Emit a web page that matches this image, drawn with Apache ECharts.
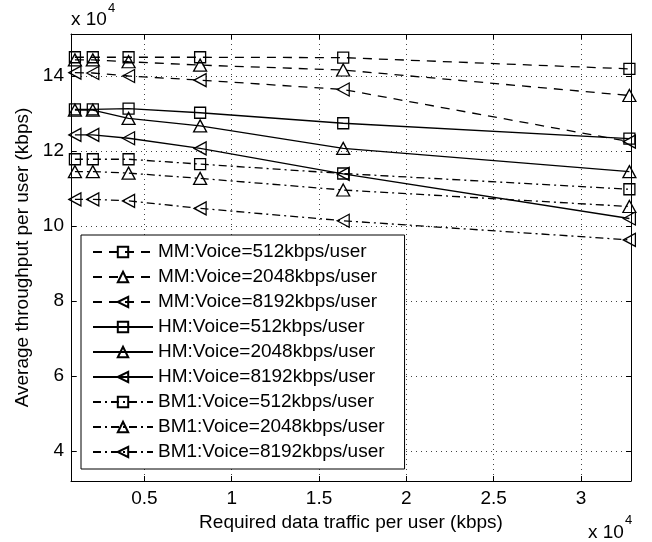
<!DOCTYPE html>
<html>
<head>
<meta charset="utf-8">
<script src="https://cdn.jsdelivr.net/npm/echarts@6/dist/echarts.min.js"></script>
<style>html,body{margin:0;padding:0;background:#fff}#c{width:652px;height:542px}</style>
</head>
<body>
<div id="c"></div>
<script>
var xValues = [1024, 2048, 4096, 8192, 16384, 32768];
var xTicks = [5000, 10000, 15000, 20000, 25000, 30000];
var yTicks = [40000, 60000, 80000, 100000, 120000, 140000];

var mm512  = [145000, 145000, 145000, 145000, 144900, 141900];
var mm2048 = [144300, 144300, 143800, 142900, 141600, 134800];
var mm8192 = [140900, 140800, 140000, 138900, 136400, 122500];
var hm512  = [131100, 131100, 131300, 130200, 127400, 123300];
var hm2048 = [130900, 130900, 128700, 126700, 120700, 114500];
var hm8192 = [124300, 124300, 123400, 120700, 113900, 102000];
var bm512  = [117800, 117800, 117800, 116500, 114000, 109800];
var bm2048 = [114500, 114500, 114100, 112700, 109600, 105200];
var bm8192 = [107100, 107100, 106700, 104700, 101400, 96300];

var names = [
  'MM:Voice=512kbps/user', 'MM:Voice=2048kbps/user', 'MM:Voice=8192kbps/user',
  'HM:Voice=512kbps/user', 'HM:Voice=2048kbps/user', 'HM:Voice=8192kbps/user',
  'BM1:Voice=512kbps/user', 'BM1:Voice=2048kbps/user', 'BM1:Voice=8192kbps/user'
];
var seriesData = [mm512, mm2048, mm8192, hm512, hm2048, hm8192, bm512, bm2048, bm8192];

var FONT = "'Liberation Sans', Arial, Helvetica, sans-serif";
var LEFT_TRI = 'path://M0,6L12,0L12,12Z';
var symbols = ['rect', 'triangle', LEFT_TRI];
var symSizes = [[11, 11], [13, 12], [12, 13]];
var dashTypes = [[9, 7], 'solid', [8, 4, 2, 4]];

function pairs(arr) {
  return xValues.map(function (x, i) { return [x, arr[i]]; });
}

var series = names.map(function (n, i) {
  var g = Math.floor(i / 3), s = i % 3;
  return {
    name: n,
    type: 'line',
    data: pairs(seriesData[i]),
    symbol: symbols[s],
    symbolSize: symSizes[s],
    showAllSymbol: true,
    lineStyle: { color: '#000', width: 1.3, type: dashTypes[g] },
    itemStyle: { color: 'transparent', borderColor: '#000', borderWidth: 1.3 },
    emphasis: { disabled: true },
    z: 3
  };
});

var chart = echarts.init(document.getElementById('c'), null, { renderer: 'canvas' });
chart.setOption({
  animation: false,
  backgroundColor: '#fff',
  textStyle: { fontFamily: FONT },
  grid: { left: 71, right: 21, top: 34, bottom: 61, containLabel: false },
  xAxis: [{
    type: 'value', min: 800, max: 32860, position: 'bottom',
    name: 'Required data traffic per user (kbps)', nameLocation: 'middle', nameGap: 30,
    nameTextStyle: { fontSize: 19, color: '#000', fontFamily: FONT },
    axisLine: { lineStyle: { color: '#000', width: 1 } },
    axisTick: { inside: true, length: 5, customValues: xTicks, lineStyle: { color: '#000' } },
    axisLabel: { customValues: xTicks, fontSize: 19, color: '#000', fontFamily: FONT, margin: 8,
      formatter: function (v) { return String(v / 10000); } },
    splitLine: { show: true, lineStyle: { color: '#444', width: 1, type: [1, 4] } }
  }, {
    type: 'value', min: 800, max: 32860, position: 'top',
    axisLine: { lineStyle: { color: '#000', width: 1 } },
    axisTick: { inside: true, length: 5, customValues: xTicks, lineStyle: { color: '#000' } },
    axisLabel: { show: false },
    splitLine: { show: false }
  }],
  yAxis: [{
    type: 'value', min: 32000, max: 151200, position: 'left',
    name: 'Average throughput per user (kbps)', nameLocation: 'middle', nameGap: 38,
    nameTextStyle: { fontSize: 19, color: '#000', fontFamily: FONT },
    axisLine: { show: true, lineStyle: { color: '#000', width: 1 } },
    axisTick: { show: true, inside: true, length: 5, customValues: yTicks, lineStyle: { color: '#000' } },
    axisLabel: { customValues: yTicks, fontSize: 19, color: '#000', fontFamily: FONT, margin: 7,
      formatter: function (v) { return String(v / 10000); } },
    splitLine: { show: true, lineStyle: { color: '#444', width: 1, type: [1, 4] } }
  }, {
    type: 'value', min: 32000, max: 151200, position: 'right',
    axisLine: { show: true, lineStyle: { color: '#000', width: 1 } },
    axisTick: { show: true, inside: true, length: 5, customValues: yTicks, lineStyle: { color: '#000' } },
    axisLabel: { show: false },
    splitLine: { show: false }
  }],
  legend: {
    orient: 'vertical', left: 81, top: 235,
    data: names,
    itemWidth: 60, itemHeight: 13, itemGap: 5,
    padding: [7, 20, 7, 11],
    borderColor: '#000', borderWidth: 1, backgroundColor: '#fff',
    textStyle: { fontSize: 19, color: '#000', fontFamily: FONT, lineHeight: 20 },
    selectedMode: false
  },
  graphic: [
    { type: 'text', left: 71, top: 10, style: { text: 'x 10', fontSize: 19, fontFamily: FONT, fill: '#000' } },
    { type: 'text', left: 108, top: 2, style: { text: '4', fontSize: 13, fontFamily: FONT, fill: '#000' } },
    { type: 'text', left: 588, top: 523, style: { text: 'x 10', fontSize: 19, fontFamily: FONT, fill: '#000' } },
    { type: 'text', left: 625, top: 514, style: { text: '4', fontSize: 13, fontFamily: FONT, fill: '#000' } }
  ],
  series: series
});
</script>
</body>
</html>
